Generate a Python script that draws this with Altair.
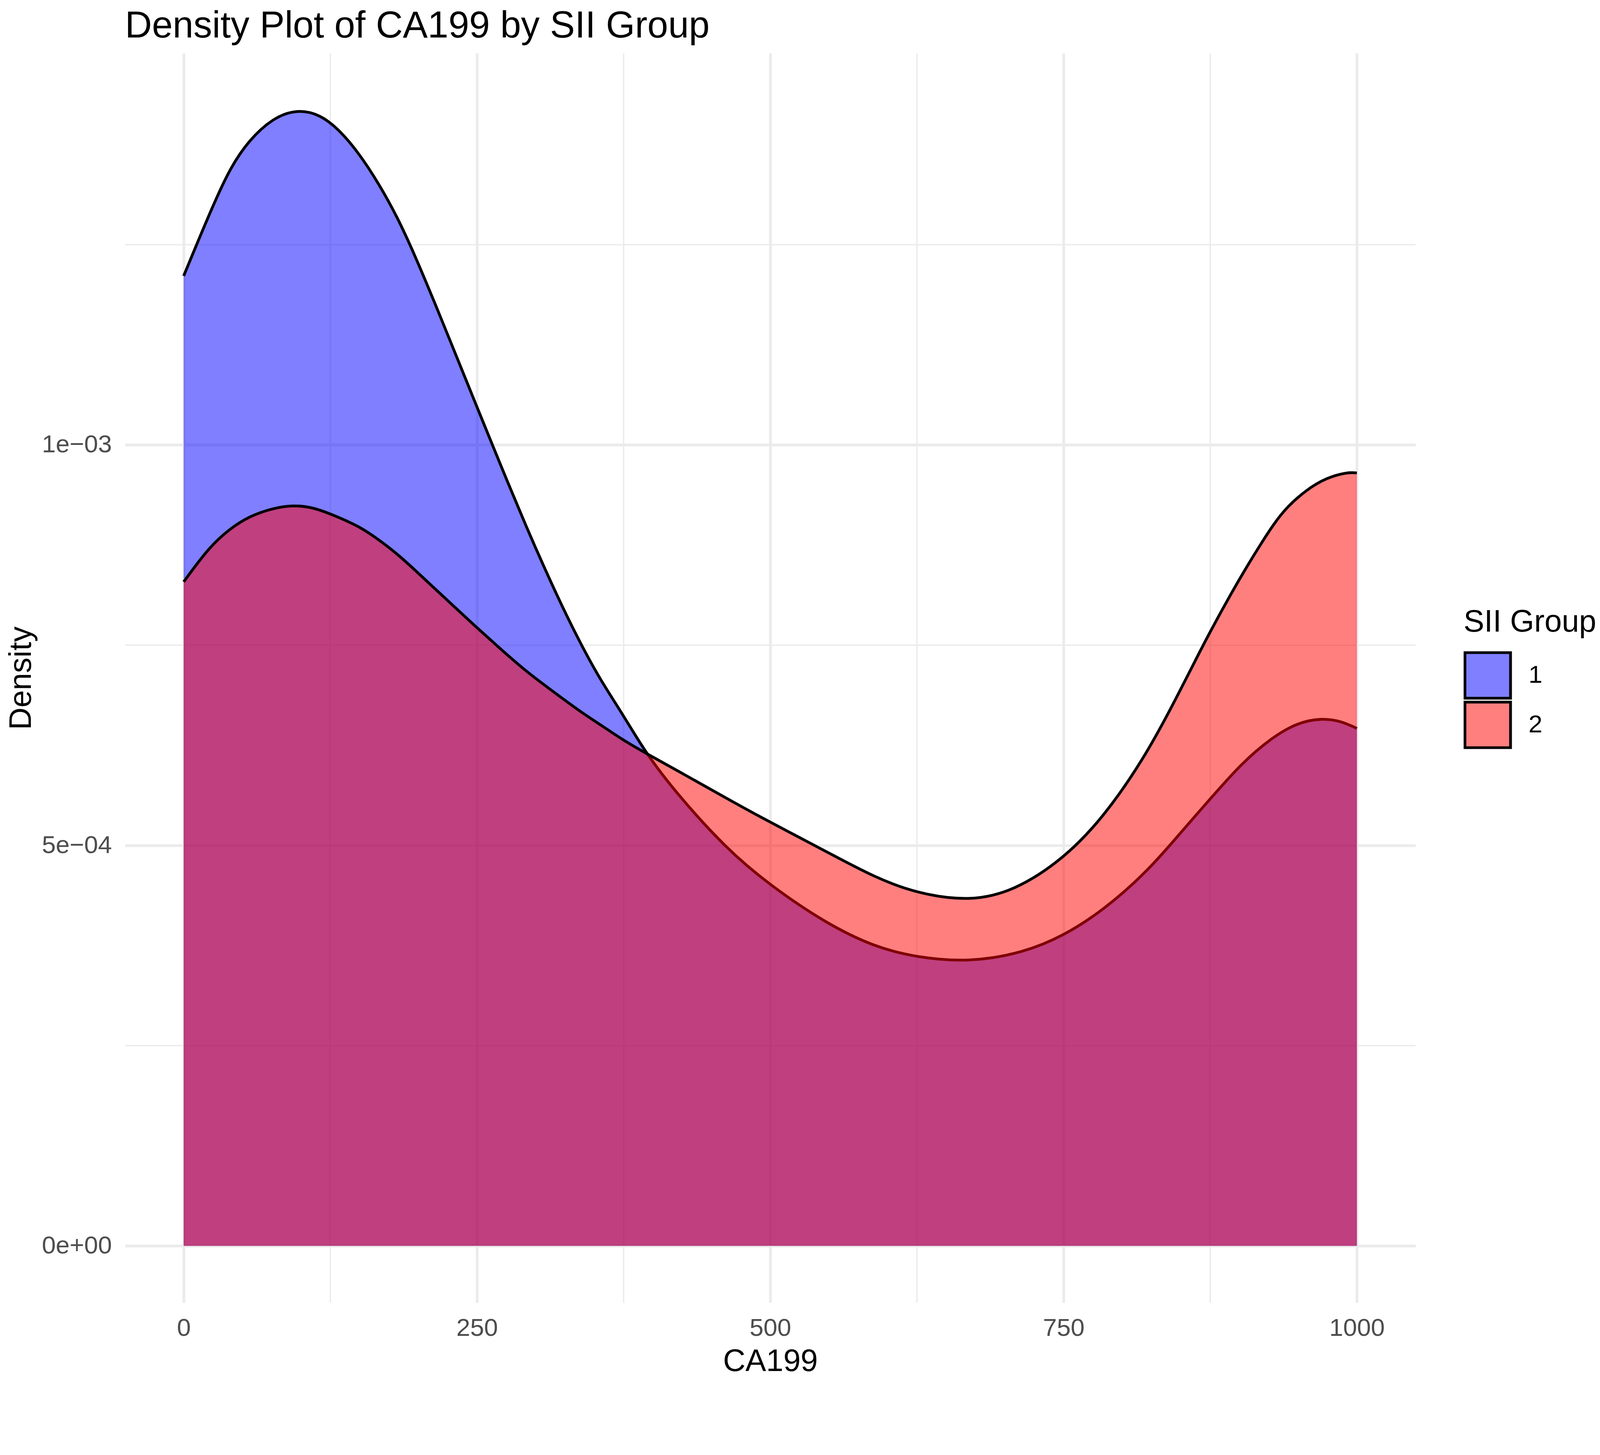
import altair as alt
import pandas as pd

FONT = "Liberation Sans"

# ---- data ----
groups = ["1", "2"]
group_colors = ["rgba(0,0,255,0.5)", "rgba(255,0,0,0.5)"]

ca199_g1 = [0, 24, 40, 56, 76, 96, 116, 133, 150, 166, 182, 197, 213, 228, 244,
            259, 276, 292, 307, 323, 339, 355, 375, 394, 420, 463, 500, 547, 589,
            625, 670, 716, 750, 784, 822, 851, 875, 902, 928, 949, 970, 987, 1000]
density_g1 = [0.001211, 0.001296, 0.001347, 0.001381, 0.001408, 0.001419, 0.001413,
              0.001393, 0.001363, 0.001327, 0.001285, 0.001237, 0.001181, 0.001127,
              0.001069, 0.001015, 0.000954, 0.000898, 0.000848, 0.000797, 0.000750,
              0.000707, 0.000662, 0.000615, 0.000565, 0.000495, 0.000450, 0.000403,
              0.000373, 0.000360, 0.000354, 0.000366, 0.000387, 0.000419, 0.000468,
              0.000518, 0.000558, 0.000603, 0.000635, 0.000653, 0.000659, 0.000655,
              0.000646]

ca199_g2 = [0, 22, 40, 56, 76, 93, 111, 130, 150, 166, 182, 197, 213, 230, 246, 262,
            278, 294, 315, 338, 358, 375, 394, 420, 454, 488, 547, 589, 625, 670, 708,
            750, 784, 818, 843, 862, 875, 893, 907, 918, 929, 940, 957, 974, 992, 1000]
density_g2 = [0.000829, 0.000873, 0.000896, 0.000911, 0.000921, 0.000925, 0.000922,
              0.000911, 0.000898, 0.000882, 0.000864, 0.000844, 0.000822, 0.000799,
              0.000777, 0.000756, 0.000735, 0.000715, 0.000692, 0.000667, 0.000648,
              0.000631, 0.000615, 0.000594, 0.000566, 0.000538, 0.000493, 0.000460,
              0.000440, 0.000430, 0.000443, 0.000483, 0.000535, 0.000607, 0.000675,
              0.000730, 0.000767, 0.000815, 0.000850, 0.000876, 0.000901, 0.000922,
              0.000944, 0.000959, 0.000966, 0.000965]

x_major = [0, 250, 500, 750, 1000]
x_minor = [125, 375, 625, 875]
y_major = [0, 0.0005, 0.001]
y_minor = [0.00025, 0.00075, 0.00125]
y_labels = ["0e+00", "5e\u221204", "1e\u221203"]

title_text = "Density Plot of CA199 by SII Group"
x_title = "CA199"
y_title = "Density"
legend_title = "SII Group"

# ---- tables ----
df1 = pd.DataFrame({"CA199": ca199_g1, "Density": density_g1, "SII Group": groups[0]})
df2 = pd.DataFrame({"CA199": ca199_g2, "Density": density_g2, "SII Group": groups[1]})
df_xminor = pd.DataFrame({"CA199": x_minor})
df_yminor = pd.DataFrame({"Density": y_minor})

# label expression built from the tick arrays
expr = f"'{y_labels[-1]}'"
for i in range(len(y_major) - 2, -1, -1):
    mid = (y_major[i] + y_major[i + 1]) / 2
    expr = f"datum.value < {mid} ? '{y_labels[i]}' : ({expr})"

W, H = 3494, 3383
GRID = "#EBEBEB"

x_scale = alt.Scale(domain=[-50, 1050], nice=False, zero=False)
y_scale = alt.Scale(domain=[-0.000071, 0.001489], nice=False, zero=False)
color_scale = alt.Scale(domain=groups, range=group_colors)

x_axis = alt.Axis(
    values=x_major, format="d", orient="bottom", labelFlush=False, labelLimit=1000,
    title=x_title, titleBaseline="alphabetic", titleX=W / 2, titleY=184,
)
y_axis = alt.Axis(
    values=y_major, labelExpr=expr, orient="left", labelFlush=False, labelLimit=1000,
    title=y_title, titleBaseline="alphabetic", titleAngle=270, titleAlign="center",
    titleX=-255, titleY=H / 2,
)

legend = alt.Legend(
    title=legend_title, orient="none", legendX=3624, legendY=1500, padding=0,
    titlePadding=35, titleLimit=2000, labelLimit=2000, labelOffset=45,
    symbolType="square", symbolSize=15252, symbolStrokeColor="black",
    symbolStrokeWidth=7.5, rowPadding=3, clipHeight=131,
)

X = alt.X("CA199:Q", scale=x_scale, axis=x_axis)
Y = alt.Y("Density:Q", scale=y_scale, axis=y_axis)

xminor_rules = alt.Chart(df_xminor).mark_rule(color=GRID, strokeWidth=3.7).encode(x=X)
yminor_rules = alt.Chart(df_yminor).mark_rule(color=GRID, strokeWidth=3.7).encode(y=Y)


def area_layer(df):
    return alt.Chart(df).mark_area(interpolate="basis").encode(
        x=X, y=Y, y2=alt.datum(0),
        color=alt.Color("SII Group:N", scale=color_scale, legend=legend),
    )


def line_layer(df):
    return alt.Chart(df).mark_line(
        interpolate="basis", color="black", strokeWidth=7.5, strokeJoin="round"
    ).encode(x=X, y=Y)


chart = alt.layer(
    xminor_rules,
    yminor_rules,
    area_layer(df1),
    line_layer(df1),
    area_layer(df2),
    line_layer(df2),
).properties(
    width=W,
    height=H,
    title=alt.TitleParams(
        text=title_text, anchor="start", frame="group", fontSize=101, fontWeight="normal",
        color="black", font=FONT, offset=-81, baseline="bottom",
    ),
    autosize=alt.AutoSizeParams(type="none"),
    padding={"left": 330, "top": 32, "right": 491, "bottom": 187},
).configure(font=FONT).configure_view(strokeWidth=0).configure_axis(
    grid=True, gridColor=GRID, gridWidth=7.5, ticks=False, domain=False,
    labelPadding=36, labelFontSize=67.5, labelColor="#4D4D4D", labelFont=FONT,
    titleFont=FONT, titleFontSize=84, titleFontWeight="normal", titleColor="black",
).configure_legend(
    titleFont=FONT, titleFontSize=84, titleFontWeight="normal", titleColor="black",
    labelFont=FONT, labelFontSize=67.5, labelColor="black",
)

chart.save("out.html", embed_options={"renderer": "svg", "actions": False})
